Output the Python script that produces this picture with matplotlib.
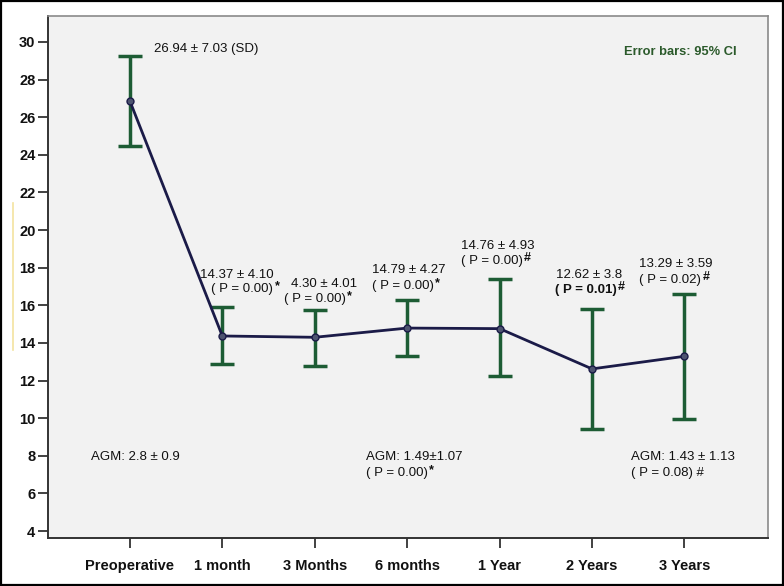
import matplotlib
matplotlib.use("Agg")
import matplotlib.pyplot as plt
from matplotlib.patches import Rectangle
from matplotlib.lines import Line2D

plt.rcParams['font.family'] = ['Liberation Sans', 'DejaVu Sans']

# data
labels = ['Preoperative', '1 month', '3 Months', '6 months', '1 Year', '2 Years', '3 Years']
means = [26.86, 14.37, 14.30, 14.79, 14.76, 12.62, 13.29]
ci_low = [24.47, 12.86, 12.78, 13.28, 12.22, 9.45, 9.98]
ci_high = [29.26, 15.89, 15.76, 16.29, 17.38, 15.80, 16.60]

# annotation texts: (text, superscript mark, x, y in data units, bold)
notes = [
    ('26.94 ± 7.03 (SD)', '', 0.26, 29.63, False),
    ('14.37 ± 4.10', '', 0.755, 17.61, False),
    ('( P = 0.00)', '*', 0.88, 16.86, False),
    ('4.30 ± 4.01', '', 1.74, 17.13, False),
    ('( P = 0.00)', '*', 1.665, 16.33, False),
    ('14.79 ± 4.27', '', 2.616, 17.87, False),
    ('( P = 0.00)', '*', 2.616, 17.02, False),
    ('14.76 ± 4.93', '', 3.58, 19.15, False),
    ('( P = 0.00)', '#', 3.58, 18.35, False),
    ('12.62 ± 3.8', '', 4.605, 17.61, False),
    ('( P = 0.01)', '#', 4.595, 16.81, True),
    ('13.29 ± 3.59', '', 5.51, 18.19, False),
    ('( P = 0.02)', '#', 5.51, 17.34, False),
    ('AGM: 2.8 ± 0.9', '', -0.42, 7.93, False),
    ('AGM: 1.49±1.07', '', 2.55, 7.93, False),
    ('( P = 0.00)', '*', 2.55, 7.07, False),
    ('AGM: 1.43 ± 1.13', '', 5.42, 7.93, False),
    ('( P = 0.08) #', '', 5.42, 7.07, False),
]

fig = plt.figure(figsize=(7.84, 5.86), dpi=100)
ax = fig.add_axes([0.0612, 0.0819, 0.918, 0.8908])
ax.set_facecolor('#f2f2f2')

x = list(range(len(labels)))
yerr = [[m - lo for m, lo in zip(means, ci_low)],
        [hi - m for m, hi in zip(means, ci_high)]]

ax.errorbar(x, means, yerr=yerr, fmt='none', ecolor='#1d5c34',
            elinewidth=2.5, capsize=8.3, capthick=2.5, zorder=2)
ax.plot(x, means, color='#1b1b48', linewidth=2.0, marker='o', markersize=5,
        markerfacecolor='#4d5470', markeredgecolor='#1b1b48',
        markeredgewidth=1.0, zorder=3)

for txt, mark, tx, ty, bold in notes:
    t = ax.text(tx, ty, txt, fontsize=9.5, ha='left', va='center', color='#111111',
                fontweight='bold' if bold else 'normal')
    if mark:
        ax.annotate(mark, xy=(1.0, 0.75), xycoords=t, xytext=(1, 0),
                    textcoords='offset points', ha='left', va='center',
                    fontsize=9, fontweight='bold', color='#111111')

ax.text(6.56, 29.47, 'Error bars: 95% CI', fontsize=9.3, fontweight='bold',
        ha='right', va='center', color='#2b5a2b')

ax.set_xlim(-0.886, 6.90)
ax.set_ylim(3.63, 31.38)
ax.set_yticks(range(4, 31, 2))
ax.set_xticks(x)
ax.set_xticklabels(labels)

for lbl in ax.get_xticklabels() + ax.get_yticklabels():
    lbl.set_fontweight('bold')
    lbl.set_fontsize(10.5)
    lbl.set_color('#111111')

ax.tick_params(axis='both', direction='out', length=7, width=1.3, color='#333333', pad=2)
ax.tick_params(axis='x', pad=8)
for side in ['left', 'bottom']:
    ax.spines[side].set_color('#333333')
    ax.spines[side].set_linewidth(1.4)
for side in ['top', 'right']:
    ax.spines[side].set_color('#8a8a8a')
    ax.spines[side].set_linewidth(1.2)

# outer frame and the faint mark on the left edge of the original image
fig.patches.append(Rectangle((0.001, 0.001), 0.998, 0.997, transform=fig.transFigure,
                             fill=False, edgecolor='black', linewidth=1.6))
fig.lines.append(Line2D([0.0166, 0.0166], [0.403, 0.654], transform=fig.transFigure,
                        color='#f3e3a0', linewidth=1.2))

fig.savefig('out.png', dpi=100, facecolor='white')
